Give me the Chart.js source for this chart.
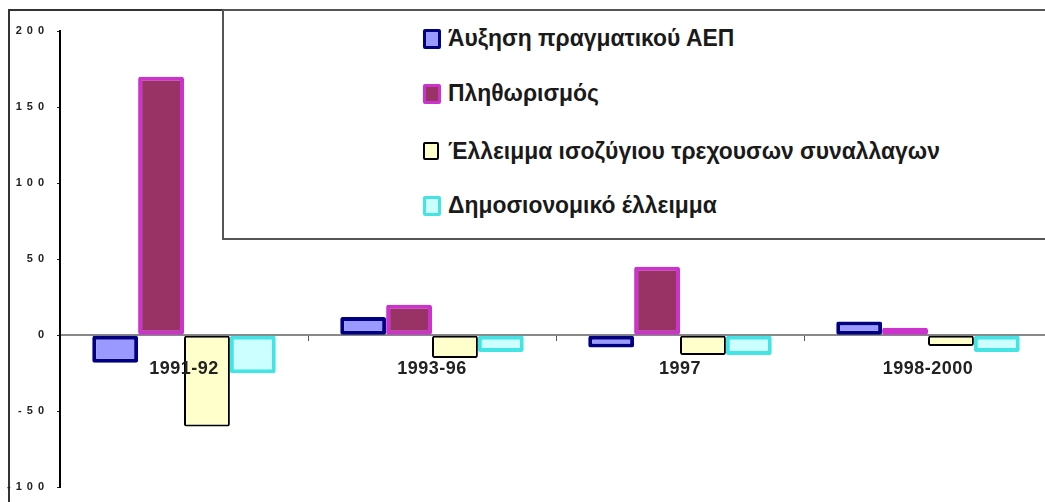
<!DOCTYPE html>
<html>
<head>
<meta charset="utf-8">
<script src="https://cdn.jsdelivr.net/npm/chart.js@4"></script>
<style>
  html, body { margin: 0; padding: 0; background: #fff; overflow: hidden; }
  #wrap { position: relative; width: 1045px; height: 502px; overflow: hidden; }
  #chart { position: absolute; left: 0; top: 0; }
  #frame { position: absolute; left: 8px; top: 9px; width: 1100px; height: 600px;
           border-left: 2px solid #333; border-top: 2px solid #333; }
  #legend { position: absolute; left: 222px; top: 9px; width: 900px; height: 227px;
            border: 2px solid #555; background: #fff; }
  .legend-item { position: absolute; left: 199px; height: 22px; white-space: nowrap;
                 font-family: "Liberation Sans", Arial, sans-serif; font-size: 22px; font-weight: bold;
                 color: #1a1a1a; line-height: 22px; }
  .legend-color { position: absolute; left: 0; top: 1px; width: 12px; height: 14px;
                  border-style: solid; border-radius: 2px; }
  .legend-text { position: absolute; left: 25px; top: -1px; transform: scale(1.04, 1.1); transform-origin: left center; }
</style>
</head>
<body>
<div id="wrap">
  <div id="frame"></div>
  <canvas id="chart" width="1060" height="502"></canvas>
  <div id="legend"></div>
</div>
<script>
const categories = ['1991-92', '1993-96', '1997', '1998-2000'];
const seriesNames = [
  'Άυξηση πραγματικού ΑΕΠ',
  'Πληθωρισμός',
  'Έλλειμμα ισοζύγιου τρεχουσων συναλλαγων',
  'Δημοσιονομικό έλλειμμα'
];
const gdpGrowth = [-18, 12, -8, 9];
const inflation = [170, 20, 45, 5];
const currentAccount = [-60, -15, -13, -7];
const fiscalDeficit = [-25, -11, -13, -11];

const fills = ['#9999ff', '#993366', '#ffffcc', '#ccffff'];
const borders = ['#000080', '#cc33cc', '#000000', '#44e4e4'];
const borderWidths = [4, 4, 2, 4];
const values = [gdpGrowth, inflation, currentAccount, fiscalDeficit];

// y labels are drawn before the bars with wide letter spacing,
// x labels (ticks.z = 1) after the bars with almost none
const spacing = {
  id: 'spacing',
  beforeDraw(chart) { chart.ctx.letterSpacing = '5px'; },
  afterDatasetsDraw(chart) { chart.ctx.letterSpacing = '0.5px'; },
  afterDraw(chart) { chart.ctx.letterSpacing = '0px'; }
};

const ctx = document.getElementById('chart').getContext('2d');
const chart = new Chart(ctx, {
  type: 'bar',
  data: {
    labels: categories,
    datasets: seriesNames.map((name, i) => ({
      label: name,
      data: values[i],
      backgroundColor: fills[i],
      borderColor: borders[i],
      borderWidth: borderWidths[i],
      borderSkipped: false,
      borderRadius: 2,
      categoryPercentage: 0.74,
      barPercentage: 1.0
    }))
  },
  options: {
    responsive: false,
    animation: false,
    layout: { padding: { left: 0, right: 8, top: 31, bottom: 13 } },
    plugins: {
      legend: { display: false },
      tooltip: { enabled: false }
    },
    scales: {
      x: {
        position: { y: 0 },
        grid: { drawOnChartArea: false, tickLength: 5, color: '#555', lineWidth: 1 },
        border: { color: '#888', width: 2 },
        ticks: {
          z: 1,
          color: '#222',
          padding: 18,
          font: { family: 'Liberation Sans', size: 18, weight: 'bold' }
        }
      },
      y: {
        min: -100,
        max: 200,
        afterFit(scale) { scale.width = 60; },
        grid: { drawOnChartArea: false, tickLength: 3, color: '#222' },
        border: { display: true, color: '#000', width: 2 },
        ticks: {
          stepSize: 50,
          color: '#222',
          padding: 8,
          font: { family: 'Liberation Sans', size: 11, weight: 'bold' }
        }
      }
    }
  },
  plugins: [spacing]
});

// legend drawn as html, like a boxed office-chart legend
const legendTops = [17, 72, 130, 184];
let legendHTML = '';
seriesNames.forEach((name, i) => {
  legendHTML += `<div class="legend-item" style="top:${legendTops[i]}px">
    <span class="legend-color" style="background-color:${fills[i]};border-color:${borders[i]};border-width:${Math.min(borderWidths[i], 3)}px"></span>
    <span class="legend-text">${name}</span>
  </div>`;
});
document.getElementById('legend').innerHTML = legendHTML;
</script>
</body>
</html>
